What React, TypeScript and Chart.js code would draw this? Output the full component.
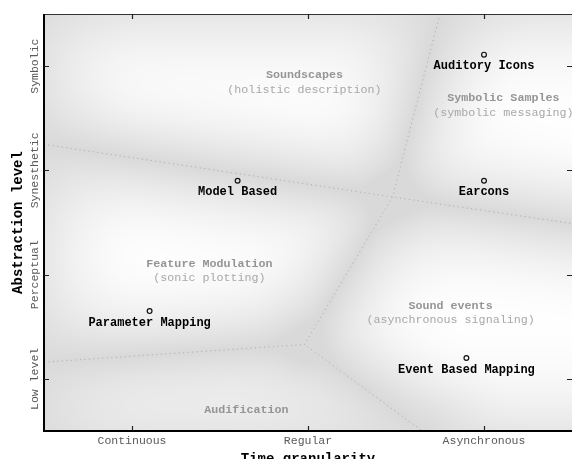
import { useEffect, useRef } from "react";
import { Chart, registerables } from "chart.js";

Chart.register(...registerables);

// ---- axis ticks ----
const xTickValues = [1, 2, 3];
const xTickLabels = ["Continuous", "Regular", "Asynchronous"];
const yTickValues = [1, 2, 3, 4];
const yTickLabels = ["Low level", "Perceptual", "Synesthetic", "Symbolic"];

// ---- sonification techniques (points) ----
const pointNames = ["Auditory Icons", "Earcons", "Model Based", "Parameter Mapping", "Event Based Mapping"];
const pointX = [3.0, 3.0, 1.6, 1.1, 2.9];
const pointY = [4.11, 2.9, 2.9, 1.65, 1.2];

// ---- regions (labels) ----
const regionTitles = ["Soundscapes", "Symbolic Samples", "Feature Modulation", "Sound events", "Audification"];
const regionSubtitles = ["(holistic description)", "(symbolic messaging)", "(sonic plotting)", "(asynchronous signaling)", ""];
const regionX = [1.98, 3.11, 1.44, 2.81, 1.65];
const regionY = [3.91, 3.69, 2.1, 1.7, 0.7];

// ---- region boundaries (polylines) ----
const boundaryUpperX = [0.5, 2.48, 3.5];
const boundaryUpperY = [3.25, 2.745, 2.49];
const boundaryMidX = [2.75, 2.48, 1.98, 2.65];
const boundaryMidY = [4.5, 2.745, 1.33, 0.5];
const boundaryLowerX = [0.5, 1.98];
const boundaryLowerY = [1.16, 1.33];

const X_MIN = 0.5;
const X_MAX = 3.5;
const Y_MIN = 0.5;
const Y_MAX = 4.5;

const MONO = '"Liberation Mono", "DejaVu Sans Mono", monospace';

type P = { x: number; y: number };
const pts = (xs: number[], ys: number[]): P[] => xs.map((x, i) => ({ x, y: ys[i] }));

function distSeg(px: number, py: number, ax: number, ay: number, bx: number, by: number) {
  const dx = bx - ax, dy = by - ay;
  const l2 = dx * dx + dy * dy;
  let t = l2 ? ((px - ax) * dx + (py - ay) * dy) / l2 : 0;
  t = Math.max(0, Math.min(1, t));
  const qx = ax + t * dx - px, qy = ay + t * dy - py;
  return Math.sqrt(qx * qx + qy * qy);
}

export default function App() {
  const ref = useRef<HTMLCanvasElement>(null);

  useEffect(() => {
    const canvas = ref.current;
    if (!canvas) return;

    const upper = pts(boundaryUpperX, boundaryUpperY);
    const mid = pts(boundaryMidX, boundaryMidY);
    const lower = pts(boundaryLowerX, boundaryLowerY);
    const polylines = [upper, mid, lower];

    const bgPlugin = {
      id: "bgShade",
      beforeDatasetsDraw(chart: any) {
        const { ctx, chartArea: a } = chart;
        const sx = chart.scales.x, sy = chart.scales.y;
        const w = Math.round(a.right - a.left), h = Math.round(a.bottom - a.top);
        const segs: number[][] = [];
        polylines.forEach((pl) => {
          for (let i = 0; i < pl.length - 1; i++) {
            segs.push([
              sx.getPixelForValue(pl[i].x) - a.left,
              sy.getPixelForValue(pl[i].y) - a.top,
              sx.getPixelForValue(pl[i + 1].x) - a.left,
              sy.getPixelForValue(pl[i + 1].y) - a.top,
            ]);
          }
        });
        const off = document.createElement("canvas");
        off.width = w;
        off.height = h;
        const octx = off.getContext("2d")!;
        const img = octx.createImageData(w, h);
        const ease = (u: number) => {
          const c = Math.max(0, Math.min(1, u));
          return 1 - (1 - c) * (1 - c);
        };
        const edge = (e: number) => 0.35 + 0.65 * ease(e / 110);
        const K = 14;
        for (let y = 0; y < h; y++) {
          for (let x = 0; x < w; x++) {
            let sum = 0;
            for (const s of segs) {
              const v = distSeg(x + 0.5, y + 0.5, s[0], s[1], s[2], s[3]);
              sum += Math.exp(-v / K);
            }
            const d = Math.max(0, -K * Math.log(sum));
            const t = ease(d / 105);
            const t2 = edge(x) * edge(y) * edge(h - y);
            const v = 217 + 37 * t * t2;
            const k = (y * w + x) * 4;
            img.data[k] = v;
            img.data[k + 1] = v;
            img.data[k + 2] = v;
            img.data[k + 3] = 255;
          }
        }
        octx.putImageData(img, 0, 0);
        ctx.drawImage(off, a.left, a.top);
      },
    };

    const overlayPlugin = {
      id: "overlay",
      afterDatasetsDraw(chart: any) {
        const { ctx, chartArea: a } = chart;
        const sx = chart.scales.x, sy = chart.scales.y;
        ctx.save();
        ctx.textAlign = "center";
        ctx.textBaseline = "middle";
        regionTitles.forEach((t, i) => {
          const px = sx.getPixelForValue(regionX[i]);
          const py = sy.getPixelForValue(regionY[i]);
          ctx.font = `bold 11.7px ${MONO}`;
          ctx.fillStyle = "#959595";
          ctx.fillText(t, px, py);
          if (regionSubtitles[i]) {
            ctx.font = `11.7px ${MONO}`;
            ctx.fillStyle = "#a8a8a8";
            ctx.fillText(regionSubtitles[i], px, py + 14);
          }
        });
        ctx.font = `bold 12px ${MONO}`;
        ctx.fillStyle = "#000";
        pointNames.forEach((n, i) => {
          const px = sx.getPixelForValue(pointX[i]);
          const py = sy.getPixelForValue(pointY[i]);
          ctx.fillText(n, px, py + 11.5);
        });
        ctx.font = `11.5px ${MONO}`;
        ctx.fillStyle = "#5a5a5a";
        yTickValues.forEach((v, i) => {
          const py = sy.getPixelForValue(v);
          ctx.save();
          ctx.translate(35, py);
          ctx.rotate(-Math.PI / 2);
          ctx.fillText(yTickLabels[i], 0, 0);
          ctx.restore();
        });
        // frame
        ctx.strokeStyle = "#333";
        ctx.lineWidth = 1;
        ctx.beginPath();
        ctx.moveTo(a.left, a.top + 0.5);
        ctx.lineTo(a.right + 2, a.top + 0.5);
        ctx.stroke();
        ctx.strokeStyle = "#000";
        ctx.lineWidth = 2;
        ctx.beginPath();
        ctx.moveTo(a.left, a.top);
        ctx.lineTo(a.left, a.bottom);
        ctx.lineTo(a.right + 2, a.bottom);
        ctx.stroke();
        // inward ticks
        ctx.strokeStyle = "#222";
        ctx.lineWidth = 1.2;
        ctx.beginPath();
        xTickValues.forEach((v) => {
          const px = Math.round(sx.getPixelForValue(v)) + 0.5;
          ctx.moveTo(px, a.bottom);
          ctx.lineTo(px, a.bottom - 5);
          ctx.moveTo(px, a.top);
          ctx.lineTo(px, a.top + 5);
        });
        yTickValues.forEach((v) => {
          const py = Math.round(sy.getPixelForValue(v)) + 0.5;
          ctx.moveTo(a.left, py);
          ctx.lineTo(a.left + 5, py);
          ctx.moveTo(a.right, py);
          ctx.lineTo(a.right - 5, py);
        });
        ctx.stroke();
        ctx.restore();
      },
    };

    const lineStyle = {
      showLine: true,
      borderColor: "#a9a9a9",
      borderWidth: 1,
      borderDash: [1, 3.5],
      pointRadius: 0,
      fill: false,
      tension: 0,
    };

    const chart = new Chart(canvas, {
      type: "scatter",
      data: {
        datasets: [
          { ...lineStyle, data: upper } as any,
          { ...lineStyle, data: mid } as any,
          { ...lineStyle, data: lower } as any,
          {
            data: pts(pointX, pointY),
            pointRadius: 2.4,
            pointBorderWidth: 1.2,
            pointBorderColor: "#111",
            pointBackgroundColor: "rgba(0,0,0,0)",
            showLine: false,
          },
        ],
      },
      options: {
        animation: false,
        responsive: false,
        maintainAspectRatio: false,
        devicePixelRatio: 1,
        events: [],
        layout: { autoPadding: false, padding: { top: 14, left: 0, right: 0, bottom: 0 } },
        plugins: { legend: { display: false }, tooltip: { enabled: false } },
        scales: {
          x: {
            type: "linear",
            min: X_MIN,
            max: X_MAX,
            afterBuildTicks: (s: any) => {
              s.ticks = xTickValues.map((v) => ({ value: v }));
            },
            afterFit: (s: any) => {
              s.height = 28;
            },
            ticks: {
              callback: (_v: any, i: number) => xTickLabels[i],
              font: { family: MONO, size: 11.5 },
              color: "#5a5a5a",
              padding: 3,
              maxRotation: 0,
              autoSkip: false,
            },
            grid: { display: false, drawTicks: false },
            border: { display: false },
            title: {
              display: true,
              text: "Time granularity",
              color: "#000",
              font: { family: MONO, size: 14, weight: "bold", lineHeight: 1 },
              padding: { top: 0, bottom: -7 },
            },
          },
          y: {
            type: "linear",
            min: Y_MIN,
            max: Y_MAX,
            afterBuildTicks: (s: any) => {
              s.ticks = yTickValues.map((v) => ({ value: v }));
            },
            afterFit: (s: any) => {
              s.width = 44;
            },
            ticks: { display: false },
            grid: { display: false, drawTicks: false },
            border: { display: false },
            title: {
              display: true,
              text: "Abstraction level",
              color: "#000",
              font: { family: MONO, size: 14, weight: "bold", lineHeight: 1 },
              padding: { top: 11, bottom: 0 },
            },
          },
        },
      } as any,
      plugins: [bgPlugin, overlayPlugin],
    });

    return () => chart.destroy();
  }, []);

  return (
    <div style={{ position: "fixed", left: 0, top: 0, width: 572, height: 459, background: "#fff" }}>
      <canvas ref={ref} width={572} height={459} style={{ display: "block", width: 572, height: 459 }} />
    </div>
  );
}
